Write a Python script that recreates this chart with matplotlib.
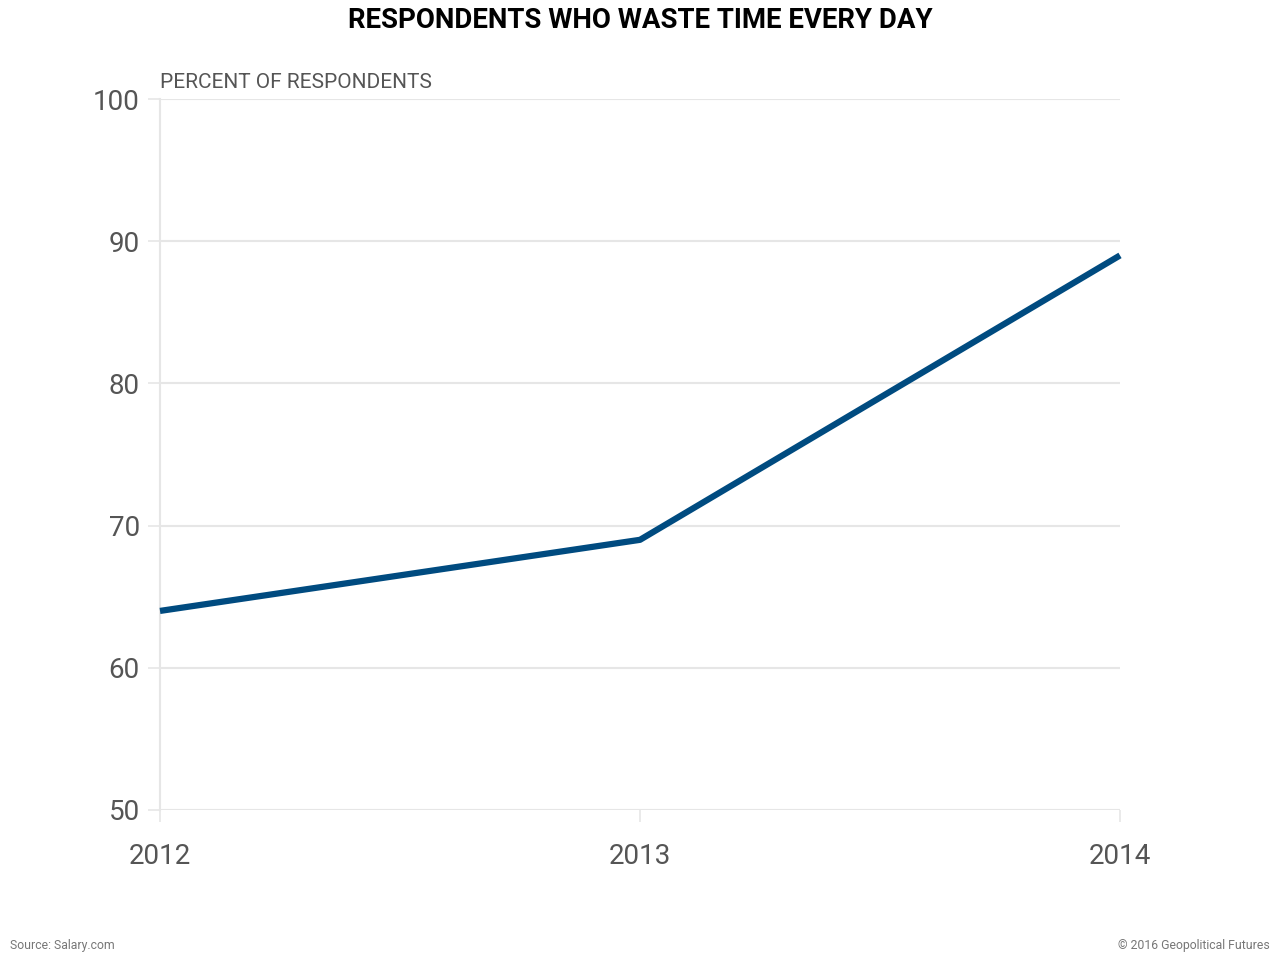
import matplotlib
matplotlib.use("Agg")
import matplotlib.pyplot as plt

years = [2012, 2013, 2014]
share = [64, 69, 89]
yticks = [50, 60, 70, 80, 90, 100]

plt.rcParams['font.family'] = ['Roboto', 'DejaVu Sans']

fig = plt.figure(figsize=(12.8, 9.6), dpi=100)
ax = fig.add_axes([0.125, 0.15625, 0.75, 0.740625])

grid_col = '#e6e6e6'
text_col = '#555555'

for v in yticks:
    ax.axhline(v, color=grid_col, lw=1.5, zorder=1)

ax.plot(years, share, color='#004b80', lw=4.5, solid_capstyle='butt', zorder=3, clip_on=False)

ax.set_xlim(2012, 2014)
ax.set_ylim(50, 100)
ax.set_xticks(years)
ax.set_xticklabels([str(y) for y in years])
ax.set_yticks(yticks)

for s in ['top', 'right', 'bottom']:
    ax.spines[s].set_visible(False)
ax.spines['left'].set_color(grid_col)
ax.spines['left'].set_linewidth(1.5)
ax.spines['left'].set_bounds(50, 100)

ax.tick_params(axis='y', length=8.5, width=1.2, color=grid_col, pad=6,
               labelsize=20, labelcolor=text_col)
ax.tick_params(axis='x', length=8.5, width=1.2, color=grid_col, pad=15,
               labelsize=20, labelcolor=text_col)

ax.text(0, 1.0 + 17 / 711, 'PERCENT OF RESPONDENTS', transform=ax.transAxes,
        fontsize=15, color=text_col, va='center', ha='left')

fig.text(0.5, 1 - 20 / 960, 'RESPONDENTS WHO WASTE TIME EVERY DAY',
         fontsize=19.9, fontweight='bold', color='black', ha='center', va='center')

fig.text(10 / 1280, 1 - 945 / 960, 'Source: Salary.com', fontsize=8.8,
         color='#777777', ha='left', va='center')
fig.text(1270 / 1280, 1 - 945 / 960, '\u00a9 2016 Geopolitical Futures', fontsize=8.8,
         color='#777777', ha='right', va='center')

fig.savefig('out.png', dpi=100, facecolor='white')
